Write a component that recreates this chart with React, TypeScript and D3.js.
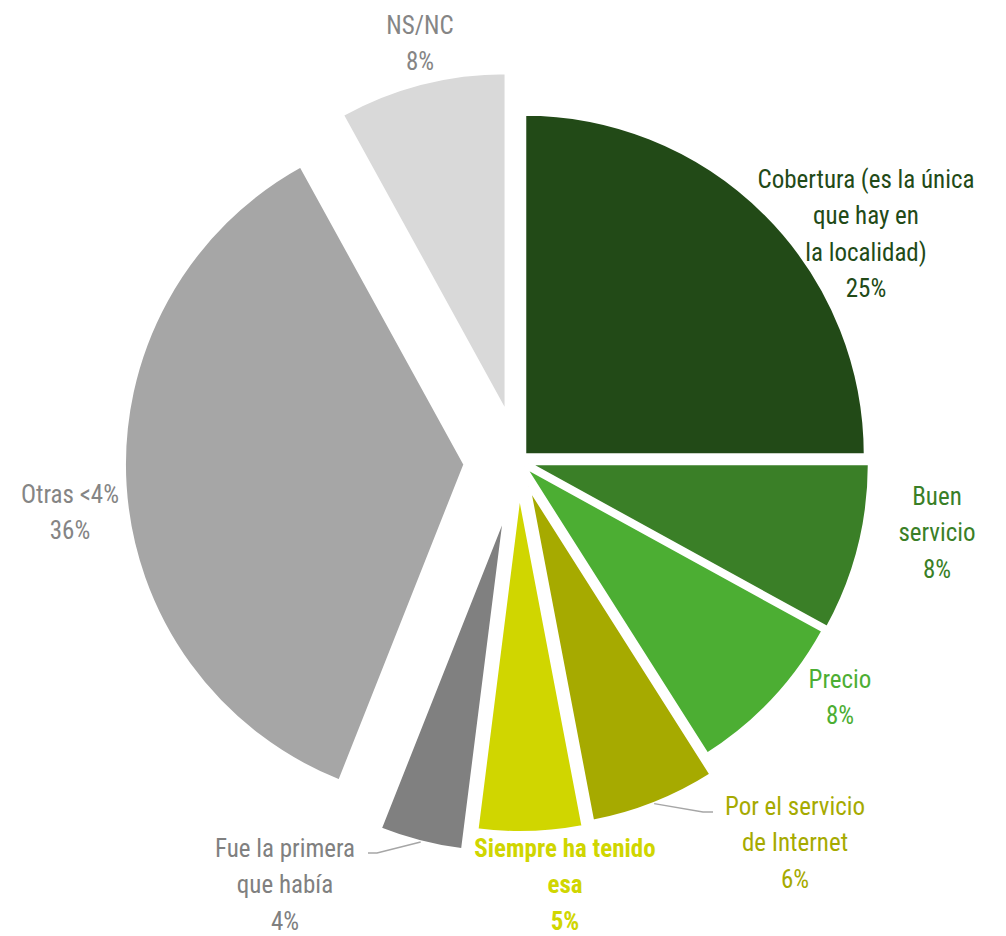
import React from "react";
import * as d3 from "d3";

// answers (one share per slice, clockwise from 12 o'clock)
const categories = [
  "Cobertura (es la única que hay en la localidad)",
  "Buen servicio",
  "Precio",
  "Por el servicio de Internet",
  "Siempre ha tenido esa",
  "Fue la primera que había",
  "Otras <4%",
  "NS/NC",
];
const shares = [25, 8, 8, 6, 5, 4, 36, 8];
const labelLines = [
  ["Cobertura (es la única", "que hay en", "la localidad)"],
  ["Buen", "servicio"],
  ["Precio"],
  ["Por el servicio", "de Internet"],
  ["Siempre ha tenido", "esa"],
  ["Fue la primera", "que había"],
  ["Otras <4%"],
  ["NS/NC"],
];

const sliceColors = ["#224a17", "#3a7f27", "#4cae33", "#a6aa00", "#d0d600", "#808080", "#a6a6a6", "#d9d9d9"];
const textColors = ["#224a17", "#3a7f27", "#4cae33", "#a6aa00", "#d0d600", "#808080", "#858585", "#858585"];
const boldLabel = [false, false, false, false, true, false, false, false];

// how far each slice is pulled out of the pie
const explode = [8.5, 10.4, 8.1, 27.5, 30.8, 52.4, 53.4, 49];

// label anchors: centre x and first baseline
const labelAt: [number, number][] = [
  [866, 188],
  [937, 505],
  [840, 688],
  [795, 815],
  [565, 857],
  [285, 857],
  [70, 503],
  [420, 34],
];
// leader lines: elbow x,y and end x
const leaders: { [i: number]: [number, number, number] } = {
  3: [703, 812, 713],
  5: [377, 853, 368],
};

const width = 1006;
const height = 936;
const cx = 518.5;
const cy = 461;
const radius = 341;
const lineGap = 36.3;

export default function App() {
  const pie = d3
    .pie<number>()
    .sort(null)
    .value((d) => d);
  const arcs = pie(shares);

  const arc = d3.arc<d3.PieArcDatum<number>>().innerRadius(0).outerRadius(radius);
  const edge = d3.arc<d3.PieArcDatum<number>>().innerRadius(radius).outerRadius(radius);

  const shift = (a: d3.PieArcDatum<number>, i: number) => {
    const mid = (a.startAngle + a.endAngle) / 2;
    return [Math.sin(mid) * explode[i], -Math.cos(mid) * explode[i]];
  };

  return (
    <svg
      width={width}
      height={height}
      style={{ position: "absolute", left: 0, top: 0, background: "#fff" }}
      fontFamily="'Roboto Condensed', 'Liberation Sans Narrow', Roboto, sans-serif"
    >
      <g transform={`translate(${cx},${cy})`}>
        {arcs.map((a, i) => {
          const [dx, dy] = shift(a, i);
          return (
            <path
              key={categories[i]}
              d={arc(a) || ""}
              transform={`translate(${dx},${dy})`}
              fill={sliceColors[i]}
              stroke="#fff"
              strokeWidth={3.5}
              strokeLinejoin="miter"
            />
          );
        })}
      </g>

      {arcs.map((a, i) => {
        const l = leaders[i];
        if (!l) return null;
        const [dx, dy] = shift(a, i);
        const [ex, ey] = edge.centroid(a);
        const pts = [
          [cx + dx + ex, cy + dy + ey],
          [l[0], l[1]],
          [l[2], l[1]],
        ] as [number, number][];
        return (
          <path
            key={"leader" + i}
            d={d3.line()(pts) || ""}
            fill="none"
            stroke="#a6a6a6"
            strokeWidth={1.5}
          />
        );
      })}

      {arcs.map((a, i) => {
        const [x, y] = labelAt[i];
        const lines = [...labelLines[i], `${shares[i]}%`];
        return (
          <text
            key={"label" + i}
            x={x}
            y={y}
            textAnchor="middle"
            fontSize={25}
            fontWeight={boldLabel[i] ? 700 : 400}
            fill={textColors[i]}
          >
            {lines.map((t, j) => (
              <tspan key={j} x={x} y={y + j * lineGap}>
                {t}
              </tspan>
            ))}
          </text>
        );
      })}
    </svg>
  );
}
